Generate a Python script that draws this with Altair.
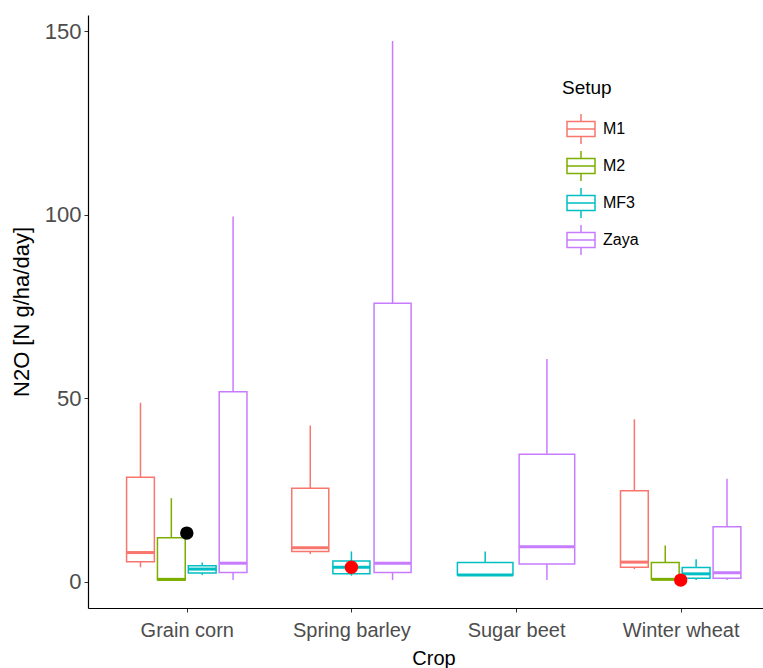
import json
import altair as alt
import pandas as pd

# ---- data ----
crops = ["Grain corn", "Spring barley", "Sugar beet", "Winter wheat"]
setups = ["M1", "M2", "MF3", "Zaya"]
setup_colors = ["#F8766D", "#7CAE00", "#00BFC4", "#C77CFF"]

box_crop = ["Grain corn", "Grain corn", "Grain corn", "Grain corn",
            "Spring barley", "Spring barley", "Spring barley",
            "Sugar beet", "Sugar beet",
            "Winter wheat", "Winter wheat", "Winter wheat", "Winter wheat"]
box_setup = ["M1", "M2", "MF3", "Zaya",
             "M1", "MF3", "Zaya",
             "MF3", "Zaya",
             "M1", "M2", "MF3", "Zaya"]
whisk_lo = [4.0, 0.5, 1.9, 0.5, 7.6, 1.7, 0.5, 1.9, 0.5, 3.5, 0.7, 0.5, 0.5]
q1 = [5.5, 0.5, 2.4, 2.6, 8.3, 2.2, 2.6, 1.9, 4.9, 4.0, 0.7, 1.0, 1.0]
median = [8.0, 0.7, 3.5, 5.1, 9.3, 4.0, 5.1, 1.9, 9.6, 5.4, 0.7, 2.2, 2.5]
q3 = [28.5, 12.0, 4.4, 51.8, 25.5, 5.7, 75.9, 5.3, 34.8, 24.8, 5.3, 3.9, 15.0]
whisk_hi = [48.8, 22.8, 5.3, 99.5, 42.6, 8.3, 147.3, 8.3, 60.7, 44.3, 9.9, 6.2, 28.1]

point_crop = ["Grain corn", "Spring barley", "Winter wheat"]
point_value = [13.3, 4.0, 0.5]
point_color = ["#000000", "#FF0000", "#FF0000"]

y_ticks = [0, 50, 100, 150]

boxes = pd.DataFrame({
    "crop": box_crop, "setup": box_setup,
    "lo": whisk_lo, "q1": q1, "med": median, "q3": q3, "hi": whisk_hi,
})
points = pd.DataFrame({"crop": point_crop, "value": point_value, "col": point_color})

crops_js = json.dumps(crops)
font = "Liberation Sans"

xscale = alt.Scale(domain=[0.4, 4.5], nice=False, zero=False)
yscale = alt.Scale(domain=[-7.1, 154.4], nice=False, zero=False)

legend_path = "M-1,-0.54H1V0.54H-1Z M-1,0H1 M0,-0.54V-1.07 M0,0.54V1.07"
legend = alt.Legend(
    title="Setup", orient="none", legendX=474, legendY=64,
    symbolType=legend_path, symbolSize=784, symbolStrokeWidth=1.5,
    symbolFillColor="white", symbolOffset=4,
    titleFontSize=19, titleFontWeight="normal", titleColor="black", titleFont=font,
    labelFontSize=16, labelColor="black", labelFont=font, labelOffset=7,
    rowPadding=1, titlePadding=16, padding=0,
)
stroke = alt.Stroke("setup:N", scale=alt.Scale(domain=setups, range=setup_colors), legend=legend)

xaxis = alt.Axis(
    values=[1, 2, 3, 4],
    labelExpr=crops_js + "[datum.value - 1]",
    title="Crop", grid=False, tickSize=4, tickColor="#333333", domainColor="black",
    domainWidth=1.2, labelColor="#4D4D4D", labelFontSize=20, labelFont=font, labelPadding=8,
    titleFontSize=20, titleFont=font, titleColor="black", titleFontWeight="normal",
    titlePadding=8, titleX=345.5,
)
yaxis = alt.Axis(
    values=y_ticks, title="N2O [N g/ha/day]", grid=False, tickSize=4, tickColor="#333333",
    domainColor="black", domainWidth=1.2, labelColor="#4D4D4D", labelFontSize=22, labelFont=font,
    labelPadding=3, titleFontSize=22, titleFont=font, titleColor="black", titleFontWeight="normal",
    titlePadding=11,
)

base = alt.Chart(boxes).transform_calculate(
    ci="indexof(" + crops_js + ", datum.crop) + 1"
).transform_joinaggregate(
    n="count()", groupby=["crop"]
).transform_window(
    k="row_number()", groupby=["crop"], sort=[alt.SortField("setup", order="ascending")]
).transform_calculate(
    pos="datum.ci + 0.75 * ((datum.k - 0.5) / datum.n - 0.5)",
    hw="0.75 / datum.n * 0.45",
).transform_calculate(
    xl="datum.pos - datum.hw", xr="datum.pos + datum.hw"
)

whiskers = base.mark_rule(strokeWidth=1.5).encode(
    x=alt.X("pos:Q", scale=xscale, axis=xaxis),
    y=alt.Y("lo:Q", scale=yscale, axis=yaxis),
    y2="hi:Q",
    stroke=stroke,
)
rects = base.mark_rect(fill="white", strokeWidth=1.5).encode(
    x=alt.X("xl:Q", scale=xscale),
    x2="xr:Q",
    y=alt.Y("q1:Q", scale=yscale),
    y2="q3:Q",
    stroke=stroke,
)
medians = base.mark_rule(strokeWidth=3).encode(
    x=alt.X("xl:Q", scale=xscale),
    x2="xr:Q",
    y=alt.Y("med:Q", scale=yscale),
    stroke=stroke,
)
dots = alt.Chart(points).transform_calculate(
    ci="indexof(" + crops_js + ", datum.crop) + 1"
).mark_circle(size=180, opacity=1).encode(
    x=alt.X("ci:Q", scale=xscale),
    y=alt.Y("value:Q", scale=yscale),
    color=alt.Color("col:N", scale=None, legend=None),
)

chart = alt.layer(whiskers, rects, medians, dots).properties(
    width=675, height=593,
    autosize=alt.AutoSizeParams(type="none"),
    padding={"left": 88, "top": 15, "right": 0, "bottom": 60},
    background="white",
).configure_view(stroke=None)

chart.save("out.html", embed_options={"renderer": "svg", "actions": False})
